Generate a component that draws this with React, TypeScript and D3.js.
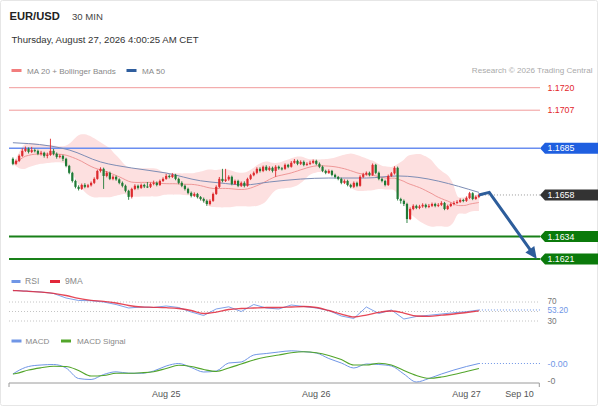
import React, { useEffect } from "react";
import * as d3 from "d3";

const FONT = "'Liberation Sans', Arial, Helvetica, sans-serif";

// ---------- Price data (EUR/USD, 30 min candles) ----------
const firstOpen = 1.16789;
const closes = [
  1.1676, 1.16777, 1.16806, 1.16835, 1.16847, 1.16829, 1.16839, 1.16835, 1.16818, 1.16824,
  1.16806, 1.16812, 1.16835, 1.16818, 1.168, 1.16806, 1.16789, 1.16748, 1.16708, 1.16661,
  1.16627, 1.16615, 1.16638, 1.16627, 1.16636, 1.1665, 1.16673, 1.16719, 1.16731, 1.1669,
  1.16708, 1.16673, 1.16685, 1.1667, 1.1665, 1.16633, 1.16604, 1.16569, 1.16615, 1.16633,
  1.16621, 1.16638, 1.16629, 1.16627, 1.16644, 1.1665, 1.16638, 1.16661, 1.16673, 1.1669,
  1.16684, 1.16696, 1.16673, 1.1665, 1.16633, 1.16615, 1.16592, 1.16575, 1.16586, 1.16568,
  1.16557, 1.16546, 1.16528, 1.16546, 1.16586, 1.16627, 1.16673, 1.16661, 1.1667, 1.16685,
  1.16644, 1.16661, 1.16633, 1.1665, 1.16633, 1.16673, 1.16694, 1.16708, 1.16731, 1.16719,
  1.16743, 1.16725, 1.16737, 1.16719, 1.16743, 1.16734, 1.16731, 1.16754, 1.16743, 1.16766,
  1.16777, 1.1676, 1.16771, 1.16754, 1.1676, 1.16766, 1.16777, 1.1676, 1.16743, 1.16719,
  1.16708, 1.16719, 1.16696, 1.16684, 1.16673, 1.1665, 1.16661, 1.16638, 1.16627, 1.1665,
  1.16633, 1.16685, 1.16699, 1.16708, 1.16696, 1.16754, 1.16708, 1.16673, 1.16661, 1.16638,
  1.1669, 1.16705, 1.16737, 1.16557, 1.16546, 1.16528, 1.16441, 1.16499, 1.16517, 1.16505,
  1.16514, 1.16523, 1.16511, 1.16517, 1.16528, 1.16517, 1.16523, 1.16534, 1.16499, 1.16516,
  1.16528, 1.16534, 1.1654, 1.16551, 1.16546, 1.16563, 1.1659, 1.16557, 1.16569, 1.1658,
];
const highs = [
  1.16797, 1.16785, 1.16814, 1.1685, 1.1686, 1.16855, 1.16858, 1.16848, 1.16842, 1.16835,
  1.1683, 1.16825, 1.16905, 1.16846, 1.16826, 1.16815, 1.16812, 1.16795, 1.16754, 1.16714,
  1.16668, 1.16636, 1.16646, 1.16648, 1.16644, 1.16658, 1.16682, 1.16726, 1.1674, 1.16738,
  1.16718, 1.16715, 1.16694, 1.16692, 1.16676, 1.16658, 1.1664, 1.1661, 1.16622, 1.16642,
  1.1664, 1.16646, 1.16645, 1.16655, 1.16652, 1.16663, 1.16658, 1.16669, 1.16682, 1.16702,
  1.16698, 1.16706, 1.16702, 1.1668, 1.16659, 1.1664, 1.16622, 1.166, 1.16595, 1.16592,
  1.16574, 1.16565, 1.16554, 1.16555, 1.16594, 1.16636, 1.16684, 1.16731, 1.16731, 1.16694,
  1.16692, 1.16669, 1.16668, 1.16658, 1.16659, 1.1668, 1.16702, 1.16716, 1.1674, 1.1674,
  1.1675, 1.16752, 1.16746, 1.16744, 1.16752, 1.1675, 1.16742, 1.16762, 1.1676, 1.16776,
  1.16788, 1.16784, 1.1678, 1.16779, 1.16769, 1.16778, 1.16785, 1.16784, 1.16768, 1.1675,
  1.16726, 1.16728, 1.16725, 1.16703, 1.1669, 1.1668, 1.1667, 1.16668, 1.16645, 1.16658,
  1.16657, 1.16694, 1.16708, 1.16716, 1.16715, 1.16762, 1.1676, 1.16715, 1.1668, 1.16668,
  1.16698, 1.16713, 1.16746, 1.16744, 1.16564, 1.16554, 1.16535, 1.16508, 1.16526, 1.16524,
  1.16523, 1.16532, 1.1653, 1.16528, 1.16536, 1.16535, 1.16533, 1.16544, 1.1654, 1.16524,
  1.16536, 1.16544, 1.1655, 1.1656, 1.16558, 1.16572, 1.16598, 1.16596, 1.16577, 1.16588,
];
const lows = [
  1.16752, 1.16754, 1.1677, 1.168, 1.16828, 1.1682, 1.16822, 1.16826, 1.1681, 1.16808,
  1.16796, 1.16792, 1.16806, 1.16809, 1.1679, 1.16792, 1.16776, 1.1674, 1.167, 1.16652,
  1.16618, 1.16606, 1.16609, 1.16619, 1.1662, 1.16629, 1.16643, 1.16668, 1.1671, 1.16615,
  1.16682, 1.16666, 1.16665, 1.16662, 1.16642, 1.16624, 1.16595, 1.16552, 1.1656, 1.16608,
  1.16612, 1.16615, 1.1662, 1.1662, 1.1662, 1.16636, 1.1663, 1.16632, 1.16655, 1.16668,
  1.16676, 1.16678, 1.16665, 1.16642, 1.16625, 1.16606, 1.16584, 1.16566, 1.16568, 1.1656,
  1.16548, 1.16536, 1.16517, 1.1652, 1.1654, 1.1658, 1.1662, 1.16653, 1.16655, 1.16662,
  1.16636, 1.16638, 1.16625, 1.16626, 1.16624, 1.16628, 1.16666, 1.16688, 1.167, 1.1671,
  1.16712, 1.16718, 1.16718, 1.1671, 1.16685, 1.16726, 1.16722, 1.16725, 1.16735, 1.16738,
  1.1676, 1.16752, 1.16753, 1.16746, 1.16748, 1.16753, 1.1676, 1.16752, 1.16735, 1.16712,
  1.167, 1.16702, 1.16688, 1.16676, 1.16665, 1.16642, 1.16643, 1.1663, 1.16619, 1.1662,
  1.16625, 1.16628, 1.16678, 1.16692, 1.16688, 1.1669, 1.167, 1.16665, 1.16653, 1.1663,
  1.16632, 1.16684, 1.16698, 1.16548, 1.1653, 1.16516, 1.16418, 1.16435, 1.16492, 1.16498,
  1.16498, 1.16506, 1.16503, 1.16504, 1.1651, 1.16509, 1.1651, 1.16516, 1.16492, 1.16493,
  1.1651, 1.1652, 1.16528, 1.16534, 1.16538, 1.1654, 1.16556, 1.1655, 1.16552, 1.16562,
];

// MA 50 at some candle indices
const ma50Idx = [0, 5, 12, 18, 28, 38, 49, 60, 66, 74, 82, 92, 101, 113, 123, 149];
const ma50Val = [
  1.16882, 1.16877, 1.16863, 1.1684, 1.16771, 1.16736, 1.16707, 1.16662, 1.1665, 1.16638,
  1.16655, 1.16672, 1.16678, 1.16678, 1.1669, 1.16595,
];

// Key levels
const resistances = [1.172, 1.1707];
const pivot = 1.1685;
const lastPrice = 1.1658;
const supports = [1.1634, 1.1621];

// Forecast arrow (candle index, price)
const forecastIdx = [149, 152.3, 167.5];
const forecastPrice = [1.1658, 1.16595, 1.1621];

// X axis
const dayLabels = ["Aug 25", "Aug 26", "Aug 27", "Sep 10"];
const dayIdx = [49, 97, 145, 162];

// Indicators sampled at candle indices
const indIdx = [0, ...d3.range(1, 150, 4)];
const rsi = [
  94.2, 94.0, 92.7, 91.1, 87.9, 78.4, 73.2, 72.7, 70.0, 64.7, 57.4, 59.5, 58.4, 61.6, 58.4,
  48.9, 41.6, 55.3, 59.9, 50.0, 64.7, 57.4, 55.3, 63.7, 60.5, 57.4, 52.1, 40.5, 35.3, 59.5,
  45.8, 53.2, 34.2, 39.5, 42.0, 44.7, 47.5, 49.6, 53.2,
];
const rsiMA = [
  94.2, 94.0, 92.5, 90.6, 88.3, 83.7, 77.4, 73.6, 71.5, 67.9, 62.6, 59.5, 58.8, 58.0, 56.3,
  52.1, 45.8, 48.9, 54.2, 56.3, 57.4, 58.4, 58.4, 59.5, 60.5, 58.4, 52.1, 44.7, 38.4, 42.6,
  48.3, 51.1, 46.8, 40.5, 39.9, 42.2, 44.7, 47.9, 51.1,
];
const rsiGrid = [70, 50, 30];
const rsiTicks = [70, 30];

// MACD in pips (x 1e-4)
const macd = [
  -2.4, -2.0, -0.9, -0.6, -0.5, -1.2, -3.3, -3.5, -2.5, -1.96, -2.24, -2.26, -1.8, -0.8, -0.3,
  -1.1, -2.0, -1.8, -0.2, 0, 1.4, 1.7, 2.0, 2.24, 2.06, 1.8, 0.7, -0.2, -1.2, -0.4, -0.5, -0.8,
  -2.4, -4.0, -3.3, -2.4, -1.6, -0.9, -0.3,
];
const macdSignal = [
  -2.4, -2.3, -1.6, -1.16, -0.84, -0.9, -1.7, -2.8, -2.7, -2.26, -2.26, -2.16, -1.94, -1.3,
  -0.66, -0.9, -1.5, -1.9, -1.2, -0.4, 0.4, 1.0, 1.4, 1.84, 2.04, 1.84, 1.3, 0.5, -0.6, -0.6,
  -0.24, -0.6, -1.7, -2.7, -3.26, -3.0, -2.5, -1.9, -1.3,
];
const macdTick = -3.8;

const C = {
  up: "#dd2a2e",
  down: "#1f7a35",
  band: "#fde0e0",
  ma20: "#ec8f8f",
  ma50: "#7d8db5",
  res: "#f19a9a",
  resText: "#e3262b",
  pivot: "#6a8ef0",
  pivotBox: "#1f5fe0",
  last: "#333333",
  sup: "#198019",
  supBox: "#0b7a0b",
  arrow: "#2d5d9b",
  rsi: "#7096e6",
  rsiMA: "#e2283a",
  macd: "#7096e6",
  sig: "#52a52a",
  grid: "#c4c4c4",
  axis: "#9a9a9a",
};

export default function App() {
  useEffect(() => {
    document.body.style.margin = "0";
  }, []);

  const x = d3.scaleLinear().domain([-1.25, 168.3]).range([9, 539.3]);
  const y = d3.scaleLinear().domain([1.1621, 1.172]).range([259, 87.7]);
  const ry = d3.scaleLinear().domain([30, 70]).range([321, 302]);
  const my = d3.scaleLinear().domain([-3.8, 0]).range([381, 362]);
  const [x0, x1] = x.range();
  const labelX = 547.5;

  const opens = [firstOpen, ...closes.slice(0, -1)];

  const bb = closes.map((_, i) => {
    const w = closes.slice(Math.max(0, i - 19), i + 1);
    const m = d3.mean(w) as number;
    const s = w.length > 1 ? (d3.deviation(w) as number) : 0;
    return { i, m, u: m + 2 * s, l: m - 2 * s };
  });

  const bandArea = d3
    .area<{ i: number; u: number; l: number }>()
    .x((d) => x(d.i))
    .y0((d) => y(d.l))
    .y1((d) => y(d.u))
    .curve(d3.curveBasis)(bb);
  const ma20Line = d3
    .line<{ i: number; m: number }>()
    .x((d) => x(d.i))
    .y((d) => y(d.m))
    .curve(d3.curveBasis)(bb);
  const ma50Line = d3
    .line<number>()
    .x((_, k) => x(ma50Idx[k]))
    .y((d) => y(d))
    .curve(d3.curveMonotoneX)(ma50Val);

  const rsiLine = d3.line<number>().x((_, k) => x(indIdx[k])).y((d) => ry(d))(rsi);
  const rsiMALine = d3
    .line<number>()
    .x((_, k) => x(indIdx[k]))
    .y((d) => ry(d))
    .curve(d3.curveMonotoneX)(rsiMA);
  const macdLine = d3
    .line<number>()
    .x((_, k) => x(indIdx[k]))
    .y((d) => my(d))
    .curve(d3.curveMonotoneX)(macd);
  const sigLine = d3
    .line<number>()
    .x((_, k) => x(indIdx[k]))
    .y((d) => my(d))
    .curve(d3.curveMonotoneX)(macdSignal);

  // forecast arrow
  const fpts = forecastIdx.map((fi, k) => [x(fi), y(forecastPrice[k])] as [number, number]);
  const tip = fpts[fpts.length - 1];
  const prev = fpts[fpts.length - 2];
  const len = Math.hypot(tip[0] - prev[0], tip[1] - prev[1]);
  const ux = (tip[0] - prev[0]) / len;
  const uy = (tip[1] - prev[1]) / len;
  const headL = 12;
  const headW = 5.5;
  const base: [number, number] = [tip[0] - ux * headL, tip[1] - uy * headL];
  const lineEnd: [number, number] = [tip[0] - ux * (headL - 2), tip[1] - uy * (headL - 2)];
  const arrowLine = d3.line()([...fpts.slice(0, -1), lineEnd]);
  const head = `M${tip[0]},${tip[1]} L${base[0] - uy * headW},${base[1] + ux * headW} L${base[0] + uy * headW},${base[1] - ux * headW} Z`;

  const boxPath = (yy: number) =>
    `M540,${yy} L545,${yy - 5.6} L598,${yy - 5.6} L598,${yy + 5.6} L545,${yy + 5.6} Z`;

  const fmt4 = d3.format(".4f");
  const lastRsi = rsi[rsi.length - 1];
  const lastMacd = macd[macd.length - 1];
  const lastX = x(closes.length - 1);

  return (
    <svg
      width={600}
      height={407}
      style={{ position: "absolute", left: 0, top: 0, display: "block", background: "#fff" }}
      fontFamily={FONT}
    >
      <rect x={0.5} y={0.5} width={597} height={405} fill="#fff" stroke="#e6e6e6" rx={2} />

      {/* Header */}
      <text x={9.5} y={19.5} fontSize={11.2} fontWeight="bold" fill="#222">EUR/USD</text>
      <text x={72} y={19.5} fontSize={9.6} fill="#444">30 MIN</text>
      <text x={11.5} y={42.5} fontSize={9.6} fill="#333">Thursday, August 27, 2026 4:00:25 AM CET</text>

      {/* Legend */}
      <rect x={11.5} y={69} width={10} height={3} fill="#f27d7d" />
      <text x={27} y={73.5} fontSize={8.1} fill="#888">MA 20 + Bollinger Bands</text>
      <rect x={126.5} y={69} width={10} height={3} fill="#2f5e9e" />
      <text x={142} y={73.5} fontSize={8.1} fill="#888">MA 50</text>
      <text x={592.5} y={73} fontSize={8.1} fill="#aaa" textAnchor="end">Research © 2026 Trading Central</text>

      {/* Bollinger band */}
      <path d={bandArea ?? ""} fill={C.band} />

      {/* Resistance lines */}
      {resistances.map((r) => (
        <g key={r}>
          <line x1={x0} x2={540} y1={y(r)} y2={y(r)} stroke={C.res} strokeWidth={1} />
          <text x={labelX} y={y(r) + 3} fontSize={8.8} fill={C.resText}>{fmt4(r)}</text>
        </g>
      ))}

      {/* Pivot */}
      <line x1={x0} x2={540} y1={y(pivot)} y2={y(pivot)} stroke={C.pivot} strokeWidth={1.5} />
      <path d={boxPath(y(pivot))} fill={C.pivotBox} />
      <text x={labelX} y={y(pivot) + 3.2} fontSize={8.8} fill="#fff">{fmt4(pivot)}</text>

      {/* Supports */}
      {supports.map((s) => (
        <g key={s}>
          <line x1={x0} x2={540} y1={y(s)} y2={y(s)} stroke={C.sup} strokeWidth={2} />
          <path d={boxPath(y(s))} fill={C.supBox} />
          <text x={labelX} y={y(s) + 3.2} fontSize={8.8} fill="#fff">{fmt4(s)}</text>
        </g>
      ))}

      {/* Last price */}
      <line x1={lastX} x2={540} y1={y(lastPrice)} y2={y(lastPrice)} stroke="#999" strokeWidth={1} strokeDasharray="1,2" />
      <path d={boxPath(y(lastPrice))} fill={C.last} />
      <text x={labelX} y={y(lastPrice) + 3.2} fontSize={8.8} fill="#fff">{fmt4(lastPrice)}</text>

      {/* MAs */}
      <path d={ma20Line ?? ""} fill="none" stroke={C.ma20} strokeWidth={0.9} />
      <path d={ma50Line ?? ""} fill="none" stroke={C.ma50} strokeWidth={1} />

      {/* Candles */}
      {closes.map((c, i) => {
        const o = opens[i];
        const col = c >= o ? C.up : C.down;
        const top = y(Math.max(o, c));
        const bot = y(Math.min(o, c));
        const cx = x(i);
        return (
          <g key={i}>
            <line x1={cx} x2={cx} y1={y(highs[i])} y2={y(lows[i])} stroke={col} strokeWidth={0.9} />
            <rect x={cx - 1.1} y={top} width={2.2} height={Math.max(1, bot - top)} fill={col} />
          </g>
        );
      })}

      {/* Forecast arrow */}
      <path d={arrowLine ?? ""} fill="none" stroke={C.arrow} strokeWidth={3} strokeLinejoin="miter" />
      <path d={head} fill={C.arrow} />

      {/* RSI panel */}
      <rect x={11.5} y={280} width={9} height={3} fill={C.rsi} />
      <text x={25} y={284} fontSize={8.6} fill="#888">RSI</text>
      <rect x={50} y={280} width={10} height={3} fill={C.rsiMA} />
      <text x={65} y={284} fontSize={8.6} fill="#888">9MA</text>
      {rsiGrid.map((g) => (
        <line key={g} x1={x0} x2={540} y1={ry(g)} y2={ry(g)} stroke={C.grid} strokeDasharray="1,2" strokeWidth={1} />
      ))}
      <line x1={lastX} x2={540} y1={ry(lastRsi)} y2={ry(lastRsi)} stroke={C.rsi} strokeDasharray="1,2" strokeWidth={1} />
      <path d={rsiLine ?? ""} fill="none" stroke={C.rsi} strokeWidth={0.9} />
      <path d={rsiMALine ?? ""} fill="none" stroke={C.rsiMA} strokeWidth={1.3} strokeOpacity={0.85} />
      {rsiTicks.map((t) => (
        <text key={t} x={labelX} y={ry(t) + (t > 50 ? 1.8 : 3.2)} fontSize={8.2} fill="#777">{t}</text>
      ))}
      <text x={labelX} y={ry(lastRsi) + 3} fontSize={8.2} fill={C.rsi}>{lastRsi.toFixed(2)}</text>

      {/* MACD panel */}
      <rect x={11.5} y={339.5} width={10} height={3} fill={C.macd} />
      <text x={25.5} y={343.5} fontSize={8.1} fill="#888">MACD</text>
      <rect x={61} y={339.5} width={10} height={3} fill={C.sig} />
      <text x={77} y={343.5} fontSize={8.1} fill="#888">MACD Signal</text>
      <line x1={lastX} x2={540} y1={my(lastMacd)} y2={my(lastMacd)} stroke={C.macd} strokeDasharray="1,2" strokeWidth={1} />
      <path d={macdLine ?? ""} fill="none" stroke={C.macd} strokeWidth={1} />
      <path d={sigLine ?? ""} fill="none" stroke={C.sig} strokeWidth={1.1} />
      <text x={labelX} y={my(lastMacd) + 3.2} fontSize={8.8} fill={C.macd}>{(lastMacd / 1e4).toFixed(2)}</text>
      <text x={labelX} y={my(macdTick) + 3} fontSize={8.8} fill="#777">{(macdTick / 1e4).toFixed(0)}</text>

      {/* X axis */}
      <line x1={x0} x2={x1} y1={383} y2={383} stroke={C.axis} strokeWidth={1} />
      <line x1={x0} x2={x0} y1={383} y2={387} stroke={C.axis} strokeWidth={1} />
      <line x1={x1} x2={x1} y1={383} y2={387} stroke={C.axis} strokeWidth={1} />
      {dayLabels.map((lab, k) => (
        <text key={lab} x={x(dayIdx[k])} y={397} fontSize={9} fill="#555" textAnchor="middle">{lab}</text>
      ))}
    </svg>
  );
}
